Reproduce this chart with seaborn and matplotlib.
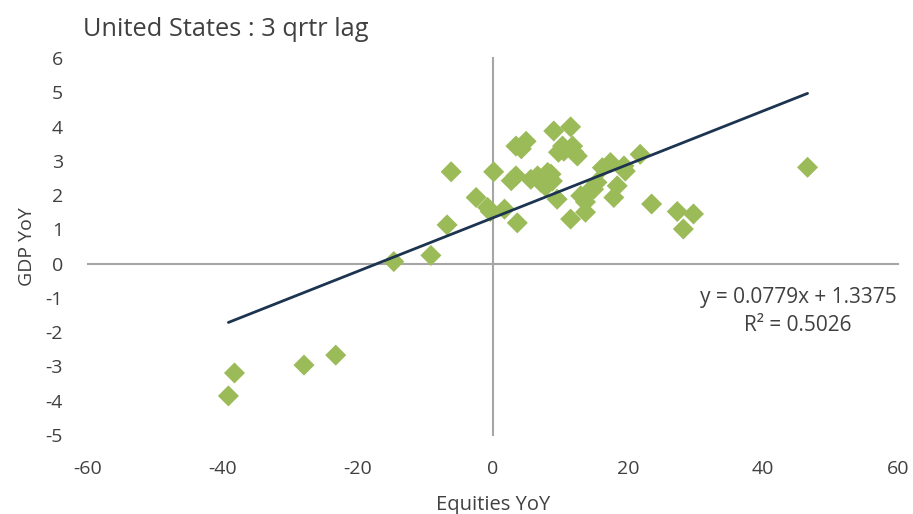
import numpy as np
import pandas as pd
import seaborn as sns
import matplotlib.pyplot as plt

# data
equities_yoy = [-39.2, -38.3, -28.0, -23.3, -14.7, -9.2, -6.8, -6.2, -2.5, -0.8,
                -0.4, 0.1, 1.7, 2.7, 3.4, 3.6, 3.4, 4.9, 4.2, 5.6,
                6.6, 7.1, 7.8, 8.6, 8.1, 8.8, 9.0, 9.5, 9.7, 10.3,
                10.5, 11.5, 11.8, 11.5, 12.0, 12.5, 13.0, 13.7, 13.7, 14.5,
                14.9, 15.4, 16.2, 17.4, 17.9, 18.4, 19.4, 19.6, 21.8, 23.5,
                27.3, 28.2, 29.7, 46.6]
gdp_yoy = [-3.86, -3.19, -2.96, -2.67, 0.06, 0.24, 1.13, 2.68, 1.93, 1.64,
           1.52, 2.68, 1.59, 2.42, 2.56, 1.19, 3.43, 3.57, 3.35, 2.46,
           2.56, 2.37, 2.25, 2.61, 2.66, 2.41, 3.87, 1.88, 3.25, 3.43,
           3.28, 3.99, 3.43, 1.30, 3.25, 3.14, 1.98, 1.80, 1.50, 2.17,
           2.17, 2.37, 2.80, 2.95, 1.93, 2.27, 2.85, 2.70, 3.19, 1.74,
           1.52, 1.01, 1.45, 2.81]
slope, intercept, r2 = 0.0779, 1.3375, 0.5026
x_ticks = list(range(-60, 61, 20))
y_ticks = list(range(-5, 7))

df = pd.DataFrame({"Equities YoY": equities_yoy, "GDP YoY": gdp_yoy})

sns.set_style("white")
plt.rcParams["font.family"] = ["Open Sans", "DejaVu Sans"]
plt.rcParams["axes.unicode_minus"] = False
text_col = "#404040"
axis_col = "#a6a6a6"

fig = plt.figure(figsize=(9.13, 5.14), dpi=100)
pos = [88 / 913, 1 - 435 / 514, (898 - 88) / 913, (435 - 58) / 514]
ax = fig.add_axes(pos)

sns.scatterplot(data=df, x="Equities YoY", y="GDP YoY", ax=ax, marker="D",
                s=115, color="#9bbb59", edgecolor="none", zorder=3)

# trend line over the data range
xs = np.array([min(equities_yoy), max(equities_yoy)])
ax.plot(xs, slope * xs + intercept, color="#1c3450", lw=2, zorder=4)

ax.set_xlim(-60, 60)
ax.set_ylim(-5, 6)
ax.set_xticks(x_ticks)
ax.set_yticks(y_ticks)

# axes cross at zero, like the spreadsheet chart
for s in ["top", "right"]:
    ax.spines[s].set_visible(False)
ax.spines["left"].set_position(("data", 0))
ax.spines["bottom"].set_position(("data", 0))
for s in ["left", "bottom"]:
    ax.spines[s].set_color(axis_col)
    ax.spines[s].set_linewidth(1.5)
    ax.spines[s].set_zorder(2)
ax.tick_params(axis="both", direction="out", length=5, width=1.2, color=axis_col,
               labelleft=False, labelbottom=False)
ax.set_xlabel("")
ax.set_ylabel("")

# labels along the outer edges
lab = fig.add_axes(pos, sharex=ax, sharey=ax, frameon=False)
lab.patch.set_visible(False)
lab.tick_params(axis="both", length=0, labelsize=14, labelcolor=text_col)
lab.tick_params(axis="x", pad=18)
lab.tick_params(axis="y", pad=18)
lab.set_xticks(x_ticks)
lab.set_yticks(y_ticks)
lab.set_xlabel("Equities YoY", fontsize=14.5, color=text_col, labelpad=12)
lab.set_ylabel("GDP YoY", fontsize=14, color=text_col, labelpad=7)

fig.text(83 / 913, 1 - 29 / 514, "United States : 3 qrtr lag", fontsize=18.3,
         color=text_col, va="center", ha="left")
ax.text(0.999, 0.365, f"y = {slope}x + {intercept}", transform=ax.transAxes,
        ha="right", va="center", fontsize=15, color=text_col)
ax.text(0.942, 0.291, f"R² = {r2}", transform=ax.transAxes,
        ha="right", va="center", fontsize=15, color=text_col)

fig.savefig("out.png", dpi=100)
